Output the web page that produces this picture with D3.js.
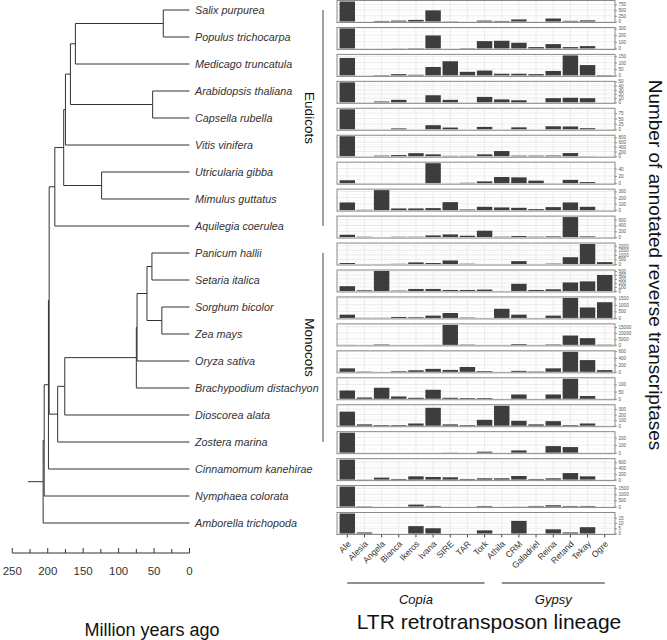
<!DOCTYPE html>
<html><head><meta charset="utf-8">
<script src="https://cdn.jsdelivr.net/npm/d3@7"></script>
<style>body{margin:0;background:#fff}svg{display:block}text{font-family:"Liberation Sans",Arial,sans-serif}</style>
</head><body><svg id="c" width="667" height="640"></svg>
<script>
// ---------------- DATA ----------------
const species = ["Salix purpurea","Populus trichocarpa","Medicago truncatula","Arabidopsis thaliana","Capsella rubella","Vitis vinifera","Utricularia gibba","Mimulus guttatus","Aquilegia coerulea","Panicum hallii","Setaria italica","Sorghum bicolor","Zea mays","Oryza sativa","Brachypodium distachyon","Dioscorea alata","Zostera marina","Cinnamomum kanehirae","Nymphaea colorata","Amborella trichopoda"];
const lineages = ["Ale","Alesia","Angela","Bianca","Ikeros","Ivana","SIRE","TAR","Tork","Athila","CRM","Galadriel","Reina","Retand","Tekay","Ogre"];
// counts per species (rows, same order as species) x lineage (columns)
const counts = [
 [880,0,25,40,70,490,10,0,40,25,90,0,130,30,50,0],
 [300,0,0,2,5,195,0,5,110,115,85,20,65,20,35,0],
 [137,0,3,10,5,66,111,28,38,13,13,10,35,157,81,3],
 [48,0,2,6,0,17,6,0,13,7,5,0,10,11,10,0],
 [93,0,0,4,0,19,8,0,11,0,9,0,14,13,5,0],
 [850,0,25,50,130,80,15,15,80,220,25,25,30,135,5,0],
 [8,0,0,0,0,55,0,1,5,17,16,7,0,9,3,0],
 [123,5,320,27,27,32,128,10,53,43,37,16,48,123,53,0],
 [80,10,0,10,10,58,92,46,220,12,35,12,23,690,23,0],
 [110,0,0,20,180,110,390,30,0,0,320,0,40,750,2200,210],
 [120,17,500,9,50,50,25,25,35,0,180,25,42,213,240,400],
 [250,10,10,75,50,175,375,25,0,700,250,0,175,1530,800,1200],
 [60,0,350,0,0,60,16700,250,0,0,600,0,350,7800,5600,200],
 [100,8,0,18,45,85,55,140,20,0,28,10,100,580,340,50],
 [58,9,77,16,7,63,7,5,5,0,30,0,30,140,19,0],
 [253,24,12,12,40,323,24,12,106,360,88,24,82,12,40,0],
 [265,0,0,0,0,0,2,0,13,0,30,0,87,74,0,0],
 [690,5,68,23,113,90,79,23,45,45,124,23,45,226,113,0],
 [1640,25,0,0,160,50,0,0,50,0,10,50,110,50,50,0],
 [19,1,0,0,7,5,0,0,3,0,12,0,4,1,6,0]
];
const yTicks = [[0,250,500,750],[0,100,200,300],[0,50,100,150],[0,10,20,30,40,50],[0,25,50,75],[0,200,400,600,800],[0,20,40],[0,100,200,300],[0,200,400,600],[0,500,1000,1500,2000],[0,100,200,300,400,500],[0,500,1000,1500],[0,5000,10000,15000],[0,200,400,600],[0,50,100],[0,100,200,300],[0,100,200],[0,200,400,600],[0,500,1000,1500],[0,5,10,15]];
// tree: [id, parent, age (Mya)]
const treeNodes = [
 ["root","",206.5],["n205","root",205],["n199","n205",199],["n198","n199",198],
 ["eud","n198",190],["core","eud",177.5],["n175","core",175],["rosid","n175",168],
 ["n161","rosid",161],["n37","n161",37],["Salix purpurea","n37",0],["Populus trichocarpa","n37",0],
 ["Medicago truncatula","n161",0],["n52","rosid",52],["Arabidopsis thaliana","n52",0],["Capsella rubella","n52",0],
 ["Vitis vinifera","n175",0],["n124","core",124],["Utricularia gibba","n124",0],["Mimulus guttatus","n124",0],
 ["Aquilegia coerulea","eud",0],
 ["mono","n198",186],["n176","mono",176],["grass","n176",75],["n74","grass",74],["pacmad","n74",60],
 ["n53","pacmad",53],["Panicum hallii","n53",0],["Setaria italica","n53",0],
 ["n39","pacmad",39],["Sorghum bicolor","n39",0],["Zea mays","n39",0],
 ["Oryza sativa","n74",0],["Brachypodium distachyon","grass",0],["Dioscorea alata","n176",0],["Zostera marina","mono",0],
 ["Cinnamomum kanehirae","n199",0],["Nymphaea colorata","n205",0],["Amborella trichopoda","root",0]
];
const rootAge = 228;
const timeTicks = [0,50,100,150,200,250];
const timeMinor = [25,75,125,175,225];
const clades = [["Eudicots","Salix purpurea","Aquilegia coerulea"],["Monocots","Panicum hallii","Zostera marina"]];
const groups = [["Copia","Ale","Tork"],["Gypsy","Athila","Ogre"]];

// ---------------- DRAW ----------------
const svg = d3.select("#c");
const ink = "#333";

// tree
const xTime = d3.scaleLinear().domain([250,0]).range([12.3,189.5]);
const yTree = d3.scalePoint().domain(species).range([10,523]);
const root = d3.stratify().id(d=>d[0]).parentId(d=>d[1]===""?null:d[1])(treeNodes);
root.eachAfter(n=>{
  n.px = xTime(n.data[2]);
  n.py = n.children ? (n.children[0].py + n.children[n.children.length-1].py)/2 : yTree(n.id);
});
const gt = svg.append("g").attr("stroke",ink).attr("stroke-width",1).attr("fill","none");
root.descendants().filter(n=>n.parent).forEach(n=>{
  gt.append("line").attr("x1",n.parent.px).attr("x2",n.px).attr("y1",n.py).attr("y2",n.py);
});
root.descendants().filter(n=>n.children).forEach(n=>{
  gt.append("line").attr("x1",n.px).attr("x2",n.px)
    .attr("y1",n.children[0].py).attr("y2",n.children[n.children.length-1].py);
});
gt.append("line").attr("x1",xTime(rootAge)).attr("x2",root.px).attr("y1",root.py).attr("y2",root.py);
svg.append("g").selectAll("text").data(root.leaves()).join("text")
  .attr("x",xTime(0)+5.5).attr("y",d=>d.py+3.8)
  .attr("font-size",10.8).attr("font-style","italic").attr("fill",ink).text(d=>d.id);

// time axis
const axY = 553;
const ga = svg.append("g").attr("stroke",ink).attr("stroke-width",1);
ga.append("line").attr("x1",xTime(250)).attr("x2",xTime(0)).attr("y1",axY).attr("y2",axY);
ga.selectAll("line.mj").data(timeTicks).join("line").attr("class","mj")
  .attr("x1",d=>xTime(d)).attr("x2",d=>xTime(d)).attr("y1",axY).attr("y2",axY-5);
ga.selectAll("line.mn").data(timeMinor).join("line").attr("class","mn")
  .attr("x1",d=>xTime(d)).attr("x2",d=>xTime(d)).attr("y1",axY).attr("y2",axY-4);
svg.append("g").selectAll("text").data(timeTicks).join("text")
  .attr("x",d=>xTime(d)).attr("y",575).attr("text-anchor","middle")
  .attr("font-size",11.5).attr("fill",ink).text(d=>d);
svg.append("text").attr("x",152).attr("y",636).attr("text-anchor","middle")
  .attr("font-size",18).attr("fill","#111").text("Million years ago");

// clade brackets
clades.forEach(c=>{
  const y1 = yTree(c[1]), y2 = yTree(c[2]);
  svg.append("line").attr("x1",323).attr("x2",323).attr("y1",y1).attr("y2",y2)
    .attr("stroke","#444").attr("stroke-width",1);
  svg.append("text").attr("transform",`translate(305,${(y1+y2)/2}) rotate(90)`)
    .attr("text-anchor","middle").attr("font-size",13.5).attr("fill","#111").text(c[0]);
});

// bar panels
const xCat = d3.scaleBand().domain(lineages).range([337,615]).paddingInner(0.1).paddingOuter(0.15);
const yPanel = d3.scaleBand().domain(species).range([0.5,534.5]).paddingInner(0.184);
const ph = yPanel.bandwidth();
species.forEach((sp,i)=>{
  const vals = counts[i];
  const mx = d3.max(vals);
  const y = d3.scaleLinear().domain([-0.05*mx,1.05*mx]).range([ph,0]);
  const g = svg.append("g").attr("transform",`translate(0,${yPanel(sp)})`);
  g.append("rect").attr("x",337).attr("y",0).attr("width",278).attr("height",ph).attr("fill","#fff");
  const tk = yTicks[i];
  const step = tk[1]-tk[0];
  const minor = [];
  for(let v=tk[0]-step/2; v<=1.05*mx; v+=step) if(v>=-0.05*mx) minor.push(v);
  g.selectAll("line.mi").data(minor).join("line").attr("x1",337).attr("x2",615)
    .attr("y1",d=>y(d)).attr("y2",d=>y(d)).attr("stroke","#f3f3f3").attr("stroke-width",0.6);
  g.selectAll("line.ma").data(tk).join("line").attr("x1",337).attr("x2",615)
    .attr("y1",d=>y(d)).attr("y2",d=>y(d)).attr("stroke","#e6e6e6").attr("stroke-width",0.8);
  g.selectAll("line.vx").data(lineages).join("line")
    .attr("x1",d=>xCat(d)+xCat.bandwidth()/2).attr("x2",d=>xCat(d)+xCat.bandwidth()/2)
    .attr("y1",0).attr("y2",ph).attr("stroke","#e6e6e6").attr("stroke-width",0.8);
  g.selectAll("rect.bar").data(vals).join("rect").attr("class","bar")
    .attr("x",(d,j)=>xCat(lineages[j])).attr("width",xCat.bandwidth())
    .attr("y",d=>y(d)).attr("height",d=>y(0)-y(d)).attr("fill","#3d3d3d");
  g.append("rect").attr("x",337).attr("y",0).attr("width",278).attr("height",ph)
    .attr("fill","none").attr("stroke","#8a8a8a").attr("stroke-width",1);
  const ax = g.append("g").attr("transform","translate(615,0)")
    .call(d3.axisRight(y).tickValues(tk).tickFormat(d3.format("d")).tickSize(2).tickPadding(1.5));
  ax.select(".domain").remove();
  ax.selectAll("line").attr("stroke","#555").attr("stroke-width",0.6);
  ax.selectAll("text").attr("font-size",4.6).attr("fill","#555").attr("font-family","Liberation Sans, Arial, sans-serif");
});

// x axis (lineages)
const bx = svg.append("g").attr("transform",`translate(0,${yPanel.range()[1]})`)
  .call(d3.axisBottom(xCat).tickSize(3));
bx.select(".domain").remove();
bx.selectAll("line").attr("stroke","#444");
bx.selectAll("text").attr("font-size",8.7).attr("fill",ink).attr("font-family","Liberation Sans, Arial, sans-serif")
  .attr("text-anchor","end").attr("y",null).attr("dy",null)
  .attr("transform","translate(4,10) rotate(-45)");

// lineage groups
groups.forEach(gp=>{
  const x1 = xCat(gp[1])+xCat.bandwidth()/2, x2 = xCat(gp[2])+xCat.bandwidth()/2;
  svg.append("line").attr("x1",x1).attr("x2",x2).attr("y1",583).attr("y2",583)
    .attr("stroke","#222").attr("stroke-width",1);
  svg.append("text").attr("x",(x1+x2)/2).attr("y",604).attr("text-anchor","middle")
    .attr("font-size",13).attr("font-style","italic").attr("fill","#111").text(gp[0]);
});
svg.append("text").attr("x",489).attr("y",629).attr("text-anchor","middle")
  .attr("font-size",21).attr("fill","#111").text("LTR retrotransposon lineage");
svg.append("text").attr("transform","translate(649,265) rotate(90)").attr("text-anchor","middle")
  .attr("font-size",19).attr("fill","#111").text("Number of annotated reverse transcriptases");
</script></body></html>
